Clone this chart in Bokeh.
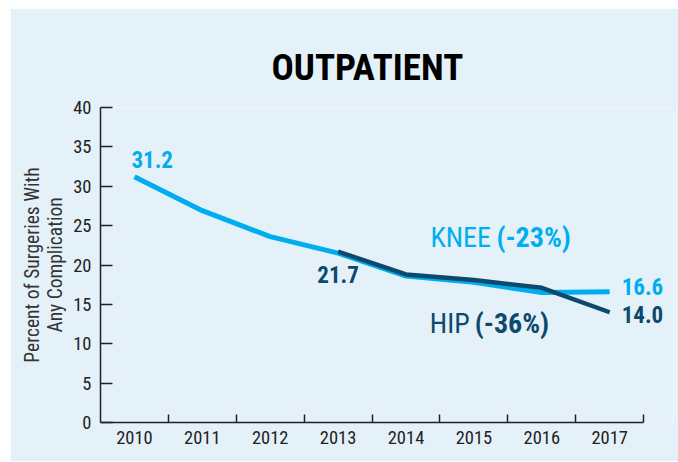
from bokeh.plotting import figure
from bokeh.models import Range1d, FixedTicker, Label
from bokeh.embed import file_html
from bokeh.resources import INLINE

# ---- data ----
years = [2010, 2011, 2012, 2013, 2014, 2015, 2016, 2017]
knee = [31.2, 26.9, 23.6, 21.5, 18.6, 17.8, 16.5, 16.6]
hip_years = [2013, 2014, 2015, 2016, 2017]
hip = [21.7, 18.8, 18.1, 17.1, 14.0]
y_ticks = [0, 5, 10, 15, 20, 25, 30, 35, 40]
title_text = "OUTPATIENT"
y_label = "Percent of Surgeries With\nAny Complication"
knee_name, knee_change = "KNEE", "(-23%)"
hip_name, hip_change = "HIP", "(-36%)"

CYAN = "#00aeef"
NAVY = "#0b4a6c"
BG = "#e5f1f9"
FONT = "Roboto Condensed"

x_start, x_end = years[0] - 0.5, years[-1] + 0.5
pad = 0.44  # room right of the axis for the end-value labels

p = figure(width=668, height=453, output_backend="svg", toolbar_location=None,
           x_range=Range1d(x_start, x_end + pad),
           y_range=Range1d(y_ticks[0], y_ticks[-1]),
           min_border_left=90, min_border_right=5, min_border_top=99,
           min_border_bottom=39)
p.margin = (8, 0, 0, 10)
p.background_fill_color = BG
p.border_fill_color = BG
p.outline_line_color = None
p.grid.visible = False

p.title.text = title_text
p.title.align = "left"
p.title.offset = 171
p.title.text_font = FONT
p.title.text_font_size = "37px"
p.title.text_font_style = "bold"
p.title.text_color = "#000000"
p.title.standoff = 37

# x axis: labels at year centres, small ticks between years
xa = p.xaxis[0]
xa.bounds = (x_start, x_end)
xa.ticker = FixedTicker(ticks=years, minor_ticks=[y + 0.5 for y in years])
xa.major_tick_in = 0
xa.major_tick_out = 0
xa.minor_tick_in = 8
xa.minor_tick_out = 0
xa.minor_tick_line_color = "#222222"
xa.minor_tick_line_width = 1.5
xa.axis_line_color = "#222222"
xa.axis_line_width = 1.5
xa.major_label_text_font = FONT
xa.major_label_text_font_size = "18.5px"
xa.major_label_text_color = "#222222"
xa.major_label_standoff = 8

ya = p.yaxis[0]
ya.ticker = FixedTicker(ticks=y_ticks)
ya.minor_tick_line_color = None
ya.major_tick_in = 12
ya.major_tick_out = 0
ya.major_tick_line_color = "#222222"
ya.major_tick_line_width = 1.5
ya.axis_line_color = "#222222"
ya.axis_line_width = 1.5
ya.major_label_text_font = FONT
ya.major_label_text_font_size = "18.5px"
ya.major_label_text_color = "#222222"
ya.major_label_standoff = 9
ya.axis_label = y_label
ya.axis_label_text_font = FONT
ya.axis_label_text_font_size = "19.5px"
ya.axis_label_text_font_style = "normal"
ya.axis_label_text_color = "#333333"
ya.axis_label_text_line_height = 1.0
ya.axis_label_standoff = 3

# lines
p.line(years, knee, line_color=CYAN, line_width=5, line_join="round")
p.line(hip_years, hip, line_color=NAVY, line_width=4.5, line_join="round")


def label(x, y, text, color, size, style="bold", align="left", dx=0, dy=0):
    p.add_layout(Label(x=x, y=y, text=text, text_color=color, text_font=FONT,
                       text_font_size=size, text_font_style=style,
                       text_align=align, text_baseline="alphabetic",
                       x_offset=dx, y_offset=dy))


# value labels
label(years[0], knee[0], f"{knee[0]:.1f}", CYAN, "23px", dx=-3, dy=17)
label(hip_years[0], hip[0], f"{hip[0]:.1f}", NAVY, "23px", align="center", dy=-23)
label(years[-1], knee[-1], f"{knee[-1]:.1f}", CYAN, "23px", dx=12, dy=5)
label(hip_years[-1], hip[-1], f"{hip[-1]:.1f}", NAVY, "23px", dx=12, dy=-2)

# series annotations
label(2014.36, 22.35, knee_name, CYAN, "28px", style="normal", dy=9)
label(2014.36, 22.35, knee_change, CYAN, "28px", dx=66, dy=9)
label(2014.35, 11.47, hip_name, NAVY, "28px", style="normal", dy=9)
label(2014.35, 11.47, hip_change, NAVY, "28px", dx=45, dy=9)

open("out.html", "w").write(file_html(p, INLINE))
